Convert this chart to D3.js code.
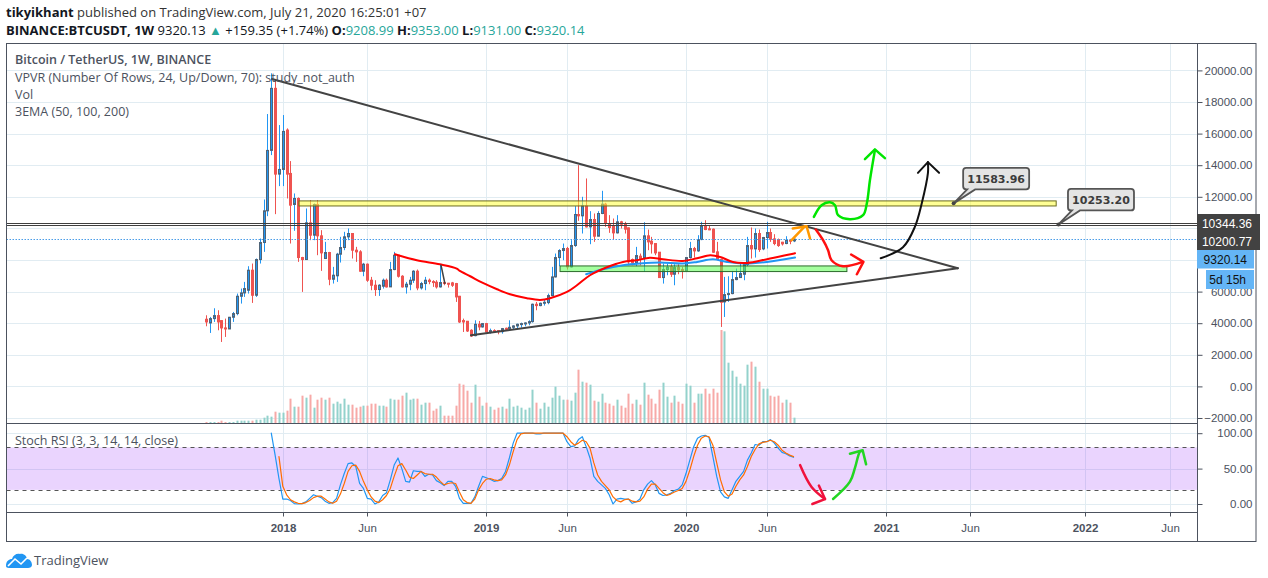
<!DOCTYPE html>
<html>
<head>
<meta charset="utf-8">
<script src="https://cdn.jsdelivr.net/npm/d3@7"></script>
<style>
  html, body { margin: 0; padding: 0; background: #fff; }
  svg { display: block; }
  text { font-family: "Open Sans", sans-serif; }
  .axis-label text, .axis-label-time text { font-family: "Liberation Sans", sans-serif; font-size: 11.5px; fill: #4c525e; }
  .axis-label line, .axis-label-time line { stroke: #4c525e; }
  .axis-label path, .axis-label-time path { display: none; }
</style>
</head>
<body>
<svg id="chart" width="1268" height="578"></svg>
<script>
// --- weekly candles, BINANCE:BTCUSDT ---
const candleOpen = [4249,4017,4291,4481,4164,3700,3636,4376,4608,5706,
  5917,6086,7354,5769,8029,9106,11113,14936,18864,13436,
  13732,16224,13478,11514,11894,8156,8029,10352,9571,11514,
  9529,8093,8473,6783,7000,8367,8790,9466,9677,8621,
  8515,7290,7734,6720,6403,6129,6340,6720,6298,7396,
  8304,6973,6298,6467,6720,7290,6234,6509,6720,6635,
  6593,6298,6572,6530,6550,6508,5705,4164,4122,3551,
  3213,3931,3762,3974,3445,3530,3530,3467,3678,3636,
  3741,3826,3931,3974,4016,4100,5199,5114,5262,5304,
  5748,6930,8155,8599,8726,7564,8916,10880,10795,11429,
  10098,10563,9507,10943,11535,10310,10141,9718,10415,10310,
  10035,8029,7817,8240,8150,9528,9190,9042,8493,6888,
  7394,7563,7099,7521,7394,7331,8155,8725,8577,9295,
  10140,9971,9950,8514,8028,5346,5831,5874,6761,6888,
  7099,7711,8915,8704,9675,8704,9422,9739,9337,9295,
  9126,9042,9253,9208.99];
const candleHigh = [4502,4397,4946,4819,4185,4291,4397,4713,5875,6192,
  6614,7607,7776,8093,9360,11831,17238,19814,19350,16541,
  17174,16330,14260,12211,11958,8200,11261,11789,11577,11789,
  9888,9149,8515,7565,8452,9466,9782,9993,9677,8832,
  8621,7818,7776,6931,6720,6467,6826,6826,7881,8515,
  8304,7037,6614,6931,7354,7396,6614,6931,6826,6720,
  6720,7670,6720,6551,6614,6550,5727,4290,4143,3615,
  4185,4143,4016,4016,3657,3615,3551,3699,3720,4185,
  3868,3974,4037,4058,4185,5241,5346,5304,5494,5874,
  7564,8409,8683,9042,8831,9254,11408,14006,12000,13161,
  11091,10943,11091,12379,11619,10838,10626,10838,10478,10415,
  10056,8092,8831,8409,10394,9929,9464,9042,8493,7775,
  7775,7732,7732,7732,7563,8155,9147,8830,9570,10415,
  10520,10203,9992,9147,8091,6930,6972,7310,7458,7775,
  7732,9464,10056,9992,9929,9464,10415,9992,9633,9358,
  9147,9506,9337,9353];
const candleLow = [3805,3383,4080,3552,2813,3130,3636,4080,4502,5241,
  5664,5875,5284,5664,7776,8515,10775,14640,10902,12676,
  12676,11894,9043,9846,7881,5981,8029,9254,9254,8304,
  7311,8093,6403,6509,6614,7839,8621,9254,8093,7881,
  7248,6973,6614,6086,5727,5727,6192,6255,6298,7354,
  6889,6255,5875,6086,6551,6086,6129,6086,6467,6298,
  6192,6255,6403,6255,6297,5346,4016,3445,3445,3129,
  3171,3551,3720,3445,3340,3403,3298,3340,3551,3509,
  3593,3699,3720,3805,3868,4037,4818,5072,5114,5199,
  5705,6888,7606,7986,7395,7522,8831,10479,9676,10056,
  9000,9148,9507,10901,10098,9718,9296,9676,9993,9676,
  7670,7670,7606,7670,7247,8620,8408,8303,6888,6507,
  7035,6930,6402,7099,6824,7310,8091,8155,8514,9253,
  9887,9887,8450,7986,3762,4395,5346,5831,6719,6866,
  6719,7606,8091,8155,8514,8619,8725,9147,8936,8830,
  8915,8999,8999,9131];
const candleClose = [4080,4291,4481,4080,3700,3636,4376,4608,5706,5917,
  6192,7354,5769,8029,9106,11113,14936,18864,13436,13732,
  16139,13436,11472,11894,8156,8029,10352,9571,11514,9529,
  8452,8473,6783,7037,8367,8790,9466,9677,8621,8515,
  7290,7734,6720,6403,6129,6403,6720,6298,7396,8304,
  6973,6298,6467,6720,7290,6234,6509,6720,6635,6593,
  6298,6572,6530,6467,6402,5663,4079,4079,3509,3192,
  3931,3762,3974,3445,3530,3467,3467,3657,3636,3741,
  3826,3931,3974,4016,4100,5199,5114,5262,5325,5748,
  6930,8155,8599,8726,7564,8916,10880,10795,11429,10098,
  10563,9507,10943,11535,10310,10056,9718,10415,10267,9951,
  7881,7817,8282,8092,9528,9148,9021,8450,6888,7394,
  7542,7099,7521,7373,7331,8155,8725,8577,9295,10140,
  9929,9929,8493,8028,5325,5810,5874,6761,6888,7141,
  7711,8915,8704,9675,8662,9422,9739,9316,9042,8915,
  9021,9253,9211,9320.14];
const volumes = [3,3,3,3,7,3,3,3,7,7, 7,7,7,10,10,16,22,19,34,31,
  31,37,73,49,49,82,76,85,46,70, 76,70,76,58,64,58,73,55,55,46,
  49,52,52,58,58,52,52,49,73,70, 70,82,91,70,73,73,55,61,61,37,
  43,52,22,22,22,52,118,115,97,61, 115,79,52,61,49,40,46,49,43,73,
  49,52,46,40,46,100,61,43,61,49, 76,109,82,70,70,67,91,160,124,121,
  115,67,64,88,61,58,52,70,52,46, 88,58,70,55,121,85,73,58,100,121,
  79,61,82,64,58,118,112,61,88,88, 103,88,103,91,279,275,181,157,139,118,
  112,175,184,169,124,103,103,82,79,82, 61,70,61,16];

// Stoch RSI lines, they start a few weeks after the first candle
const stochKStart = 17;
const stochK = [100,69,36,7,7,5,0.5,0,0.5,3,
  8,13,11,9,4,1,2,8,27,43,
  57,58,53,29,22,8,7,0,3,12,
  16,34,55,65,50,32,31,47,46,46,
  39,42,41,33,30,26,32,32,25,8,
  1,1,1,10,25,39,37,35,32,33,
  36,46,65,86,100,100,100,100,100,99,
  99,100,100,100,100,100,100,88,81,82,
  91,95,81,65,39,32,27,22,13,0,
  7,8,7,7,1,3,7,20,28,33,
  27,15,12,13,15,19,21,27,43,62,
  81,93,96,97,94,67,39,17,10,8,
  20,32,39,46,62,72,84,83,88,88,
  91,86,79,73,71,68,66];
const stochDStart = 19;
const stochD = [67,25,13,6,3,1,0.5,2,5,9,
  11,11,7,3,1,4,14,29,46,54,
  55,46,32,20,10,4,2,6,12,22,
  39,54,57,48,38,36,41,46,43,42,
  42,38,32,27,29,30,29,17,6,2,
  1,7,20,29,35,36,34,33,34,41,
  55,74,91,99,100,100,100,100,100,100,
  100,100,100,100,100,95,88,83,86,90,
  88,79,58,41,32,26,20,10,5,3,
  6,7,4,3,4,10,21,28,28,22,
  16,12,14,17,19,22,32,48,67,83,
  93,96,95,83,58,34,17,11,14,25,
  34,41,53,67,77,85,87,88,90,88,
  83,76,72,69,67];

// EMA curves as [week, price]
const emaRed = [[49.2,8365],[54.9,7985],[60.9,7731],[65.3,7459],[66.1,7307],[68.8,6971],[72.1,6546],
  [75.8,6147],[79.2,5830],[83.6,5577],[87,5469],[89.6,5577],[94,5976],[96.6,6400],[100,7034],
  [104.4,7541],[108.6,7877],[112.2,7985],[115.6,8143],[119,8048],[124.2,7940],[127.9,8111],
  [131.3,8301],[133.9,8194],[137.2,7877],[140.9,7814],[146.1,8048],[153.4,8428]];
const emaBlue = [[99,7097],[103.4,7414],[108.6,7668],[113,7776],[118.2,7839],[124.2,7776],[127.9,7877],
  [132,8048],[135.7,7877],[139.8,7776],[146.1,7877],[153.4,8156]];

// hand drawings as [week, price]
const trendUpper = [[17.2,19455],[195.8,7478]];
const trendLower = [[69,3232],[195.8,7478]];
const smallStroke = [[61.2,7668],[62.2,6527]];
const yellowZone = { weeks: [24.2,221.4], prices: [11420,11740] };
const greenZone = { weeks: [92.2,166.9], prices: [7268,7624] };
const arrowOrange = [[152.5,9252],[156,10139]];
const arrowOrangeHead = [[152.8,9993],[156.4,10139],[157.3,9360]];
const arrowGreen = [[158.3,10728],[160.3,11470],[162.5,11660],[163.8,11470],[164.6,10836],[167.7,10583],
  [171.1,10836],[172.1,11597],[172.9,13054],[174.2,14955]];
const arrowGreenHead = [[171.6,14385],[174.2,15000],[176.8,14448]];
const arrowRed = [[158.8,9930],[160.7,9252],[162,8618],[162.9,7985],[165.9,7604],[171,7877]];
const arrowRedHead = [[168,8346],[171.2,7877],[169.5,7097]];
const arrowBlack = [[175.7,8111],[181.5,8808],[184.6,10095],[186.4,11597],[188,13498],[188,14195]];
const arrowBlackHead = [[185.4,13517],[188,14195],[190.9,13517]];

// hand drawings in the Stoch pane as [week, value]
const stochArrowRed = [[154.7,55],[157.7,24],[161.2,7]];
const stochArrowRedHead = [[159.6,26],[161.2,7],[157.9,0]];
const stochArrowGreen = [[163.3,7],[167.7,31.5],[169,51],[170.3,74],[170.8,75]];
const stochArrowGreenHead = [[167.7,71],[171,76],[171.9,56]];

const horizontalLevels = [10344.36, 10200.77];
const lastPrice = 9320.14;
const callouts = [
  { label: "11583.96", week: 194.7, price: 11583.96 },
  { label: "10253.20", week: 222, price: 10253.2 },
];

// axis labels
const priceTicks = [-2000,0,2000,4000,6000,8000,10000,12000,14000,16000,18000,20000];
const stochTicks = [0,50,100];
const timeTickWeeks = [20,42,73,94,125,146,177,199,229,251];
const timeTickLabels = ["2018","Jun","2019","Jun","2020","Jun","2021","Jun","2022","Jun"];

// --- layout ---
const frame = { left: 6.5, right: 1197.5, outer: 1256, top: 43.5, mainBottom: 423.5, stochBottom: 512.5, bottom: 541.5 };
const UP = "#2196f3", DOWN = "#ef5350", GRID = "#e1ecf2", TEXT = "#4c525e";

const svg = d3.select("#chart");
const xScale = d3.scaleLinear().domain([0, 100]).range([206, 590]);
const yPrice = d3.scaleLinear().domain([0, 20000]).range([386.4, 70.4]);
const yVolume = d3.scaleLinear().domain([0, 279]).range([423, 330]);
const yStoch = d3.scaleLinear().domain([0, 100]).range([504, 433.2]);

const crisp = (v) => Math.round(v) + 0.5;
const priceLine = d3.line().x((d) => xScale(d[0])).y((d) => yPrice(d[1]));
const stochLine = d3.line().x((d) => xScale(d[0])).y((d) => yStoch(d[1]));
const curveLine = d3.line().x((d) => xScale(d[0])).y((d) => yPrice(d[1])).curve(d3.curveCatmullRom);
const stochCurve = d3.line().x((d) => xScale(d[0])).y((d) => yStoch(d[1])).curve(d3.curveCatmullRom);

function drawPath(d, color, width, opacity) {
  svg.append("path").attr("d", d).attr("fill", "none").attr("stroke", color)
    .attr("stroke-width", width).attr("stroke-linecap", "round").attr("stroke-linejoin", "round")
    .attr("opacity", opacity === undefined ? 1 : opacity);
}

// --- header ---
const header = svg.append("g").attr("fill", "#131722").attr("font-size", 13);
const line1 = header.append("text").attr("x", 6).attr("y", 17);
line1.append("tspan").attr("font-weight", 700).text("tikyikhant");
line1.append("tspan").attr("fill", "#333").text(" published on TradingView.com, July 21, 2020 16:25:01 +07");
const line2 = header.append("text").attr("x", 6).attr("y", 35);
line2.append("tspan").attr("font-weight", 700).text("BINANCE:BTCUSDT, 1W");
line2.append("tspan").text("  9320.13 ");
line2.append("tspan").attr("fill", "#26a69a").text("▲");
line2.append("tspan").text(" +159.35 (+1.74%) ");
[["O:", "9208.99"], ["H:", "9353.00"], ["L:", "9131.00"], ["C:", "9320.14"]].forEach(([k, v], i) => {
  line2.append("tspan").attr("font-weight", 700).text(k);
  line2.append("tspan").attr("fill", "#26a69a").text(v + (i < 3 ? " " : ""));
});

// --- grid ---
const grid = svg.append("g").attr("stroke", GRID).attr("stroke-width", 1);
timeTickWeeks.forEach((w) => {
  grid.append("line").attr("x1", crisp(xScale(w))).attr("x2", crisp(xScale(w)))
    .attr("y1", frame.top).attr("y2", frame.stochBottom);
});
priceTicks.forEach((p) => {
  grid.append("line").attr("x1", frame.left).attr("x2", frame.right)
    .attr("y1", crisp(yPrice(p))).attr("y2", crisp(yPrice(p)));
});
stochTicks.forEach((v) => {
  grid.append("line").attr("x1", frame.left).attr("x2", frame.right)
    .attr("y1", crisp(yStoch(v))).attr("y2", crisp(yStoch(v)));
});

// --- volume ---
svg.append("g").selectAll("rect").data(volumes).join("rect")
  .attr("x", (d, i) => Math.round(xScale(i)) - 0.5)
  .attr("width", 2)
  .attr("y", (d) => yVolume(d))
  .attr("height", (d) => yVolume(0) - yVolume(d))
  .attr("fill", (d, i) => (candleClose[i] >= candleOpen[i] ? "#93d2cc" : "#f7a9a7"));

// --- candles ---
const candles = svg.append("g").selectAll("g").data(candleOpen).join("g");
candles.append("line")
  .attr("x1", (d, i) => crisp(xScale(i))).attr("x2", (d, i) => crisp(xScale(i)))
  .attr("y1", (d, i) => yPrice(candleHigh[i])).attr("y2", (d, i) => yPrice(candleLow[i]))
  .attr("stroke", (d, i) => (candleClose[i] >= d ? UP : DOWN));
candles.append("rect")
  .attr("x", (d, i) => crisp(xScale(i)) - 1)
  .attr("width", 2)
  .attr("y", (d, i) => yPrice(Math.max(d, candleClose[i])))
  .attr("height", (d, i) => Math.max(1, Math.abs(yPrice(d) - yPrice(candleClose[i]))))
  .attr("fill", (d, i) => (candleClose[i] >= d ? UP : DOWN))
  .attr("stroke", (d, i) => (candleClose[i] >= d ? "#4f6478" : DOWN));

// --- price levels ---
horizontalLevels.forEach((p) => {
  svg.append("line").attr("x1", frame.left).attr("x2", frame.right)
    .attr("y1", crisp(yPrice(p))).attr("y2", crisp(yPrice(p)))
    .attr("stroke", "#3f3f3f").attr("stroke-width", 1);
});
svg.append("line").attr("x1", frame.left).attr("x2", frame.right)
  .attr("y1", crisp(yPrice(lastPrice))).attr("y2", crisp(yPrice(lastPrice)))
  .attr("stroke", "#4a9de8").attr("stroke-dasharray", "1.5,1.5");

// --- zones ---
[[yellowZone, "rgba(255,255,60,0.55)", "#6b6b1f"], [greenZone, "rgba(90,255,80,0.55)", "#2c6b2c"]].forEach(([z, fill, stroke]) => {
  svg.append("rect")
    .attr("x", xScale(z.weeks[0])).attr("width", xScale(z.weeks[1]) - xScale(z.weeks[0]))
    .attr("y", yPrice(z.prices[1])).attr("height", yPrice(z.prices[0]) - yPrice(z.prices[1]))
    .attr("fill", fill).attr("stroke", stroke).attr("stroke-width", 1);
});

// --- EMA curves ---
drawPath(curveLine(emaBlue), "#2196f3", 2);
drawPath(curveLine(emaRed), "#ff0000", 2);

// --- trendlines and hand drawings ---
drawPath(priceLine(trendUpper), "#434343", 2);
drawPath(priceLine(trendLower), "#434343", 2);
drawPath(priceLine(smallStroke), "#434343", 1.5);
drawPath(curveLine(arrowOrange), "#ff9800", 2.5);
drawPath(priceLine(arrowOrangeHead), "#ff9800", 2.5);
drawPath(curveLine(arrowGreen), "#00e600", 2.5);
drawPath(priceLine(arrowGreenHead), "#00e600", 2.5);
drawPath(curveLine(arrowRed), "#ff1010", 2.5);
drawPath(priceLine(arrowRedHead), "#ff1010", 2.5);
drawPath(curveLine(arrowBlack), "#111111", 2);
drawPath(priceLine(arrowBlackHead), "#111111", 2);

// --- callouts ---
callouts.forEach((c) => {
  const ax = xScale(c.week), ay = yPrice(c.price);
  const bx = ax + 9.5, by = ay - 35.5, bw = 66, bh = 21.5, r = 3;
  const d = `M${bx + r},${by} H${bx + bw - r} Q${bx + bw},${by} ${bx + bw},${by + r} V${by + bh - r} Q${bx + bw},${by + bh} ${bx + bw - r},${by + bh}
    H${bx + 12} L${ax},${ay} L${bx + 4},${by + bh} H${bx + r} Q${bx},${by + bh} ${bx},${by + bh - r} V${by + r} Q${bx},${by} ${bx + r},${by} Z`;
  svg.append("path").attr("d", d).attr("fill", "#e4e4e4").attr("stroke", "#555").attr("stroke-width", 1.8);
  svg.append("circle").attr("cx", ax).attr("cy", ay).attr("r", 2).attr("fill", "#444");
  svg.append("text").attr("x", bx + bw / 2).attr("y", by + 15).attr("text-anchor", "middle")
    .attr("font-size", 11).attr("font-weight", 700).attr("fill", "#3c3c3c")
    .style("font-family", '"DejaVu Sans", sans-serif').text(c.label);
});

// --- Stoch RSI pane ---
svg.append("rect").attr("x", frame.left).attr("width", frame.right - frame.left)
  .attr("y", yStoch(80)).attr("height", yStoch(20) - yStoch(80)).attr("fill", "rgba(152,40,250,0.2)");
[80, 20].forEach((v) => {
  svg.append("line").attr("x1", frame.left).attr("x2", frame.right)
    .attr("y1", crisp(yStoch(v))).attr("y2", crisp(yStoch(v)))
    .attr("stroke", "#555").attr("stroke-dasharray", "4,4");
});
drawPath(stochLine(stochK.map((v, i) => [i + stochKStart, v])), "#2196f3", 1.2);
drawPath(stochLine(stochD.map((v, i) => [i + stochDStart, v])), "#ff6d00", 1.2);
drawPath(stochCurve(stochArrowRed), "#f0123c", 2.5);
drawPath(stochLine(stochArrowRedHead), "#f0123c", 2.5);
drawPath(stochCurve(stochArrowGreen), "#22d622", 2.5);
drawPath(stochLine(stochArrowGreenHead), "#22d622", 2.5);

// --- legends ---
const legend = svg.append("g").attr("fill", TEXT).attr("font-size", 12.5);
legend.append("text").attr("x", 15).attr("y", 64).attr("font-weight", 600).text("Bitcoin / TetherUS, 1W, BINANCE");
legend.append("text").attr("x", 15).attr("y", 82).text("VPVR (Number Of Rows, 24, Up/Down, 70): study_not_auth");
legend.append("text").attr("x", 15).attr("y", 99).text("Vol");
legend.append("text").attr("x", 15).attr("y", 116).text("3EMA (50, 100, 200)");
legend.append("text").attr("x", 15).attr("y", 445).text("Stoch RSI (3, 3, 14, 14, close)");

// --- axes ---
const priceAxis = d3.axisRight(yPrice).tickValues(priceTicks).tickFormat(d3.format(".2f")).tickSize(5).tickPadding(0);
const stochAxis = d3.axisRight(yStoch).tickValues(stochTicks).tickFormat(d3.format(".2f")).tickSize(5).tickPadding(0);
[[priceAxis], [stochAxis]].forEach(([axis]) => {
  const g = svg.append("g").attr("class", "axis-label").attr("transform", `translate(${frame.right},0)`).call(axis);
  g.selectAll("text").attr("text-anchor", "end").attr("x", 55);
});
const timeAxis = d3.axisBottom(xScale).tickValues(timeTickWeeks)
  .tickFormat((d, i) => timeTickLabels[i]).tickSize(4).tickPadding(7);
const timeG = svg.append("g").attr("class", "axis-label-time")
  .attr("transform", `translate(0,${frame.stochBottom})`).call(timeAxis);
timeG.selectAll("text").attr("font-weight", (d, i) => (timeTickLabels[i] === "Jun" ? 400 : 700));
timeG.selectAll(".tick").attr("transform", (d) => `translate(${crisp(xScale(d))},0)`);

// --- frame ---
const border = svg.append("g").attr("stroke", "#4c525e").attr("stroke-width", 1).attr("fill", "none");
border.append("rect").attr("x", frame.left).attr("y", frame.top)
  .attr("width", frame.outer - frame.left).attr("height", frame.bottom - frame.top);
border.append("line").attr("x1", frame.right).attr("x2", frame.right).attr("y1", frame.top).attr("y2", frame.bottom);
border.append("line").attr("x1", frame.left).attr("x2", frame.right).attr("y1", frame.mainBottom).attr("y2", frame.mainBottom);
border.append("line").attr("x1", frame.left).attr("x2", frame.right).attr("y1", frame.stochBottom).attr("y2", frame.stochBottom);

// --- price tags ---
function priceTag(x, y, w, h, fill, color, label, textX) {
  svg.append("rect").attr("x", x).attr("y", y).attr("width", w).attr("height", h).attr("fill", fill);
  svg.append("text").attr("x", textX).attr("y", y + h / 2 + 4.5).attr("text-anchor", "end")
    .attr("fill", color).attr("font-size", 12).style("font-family", '"Liberation Sans", sans-serif').text(label);
}
svg.append("rect").attr("x", 1197).attr("y", 214).attr("width", 63).attr("height", 36).attr("fill", "#424242");
priceTag(1197, 214, 63, 18, "#424242", "#fff", "10344.36", 1252);
priceTag(1197, 232, 63, 18, "#424242", "#fff", "10200.77", 1252);
priceTag(1197, 250, 57, 18.5, "#64b5f6", "#111", "9320.14", 1247);
priceTag(1206, 270, 48, 19, "#64b5f6", "#111", "5d 15h", 1246);

// --- logo ---
const logo = svg.append("g").attr("transform", "translate(6,552)");
logo.append("path").attr("fill", "#2196f3")
  .attr("d", "M0,14 C0,9 3,7 6,7 C7,3 11,1 14,2 C17,1 21,4 21,7 C24,7 26,10 26,13 C26,15 24,16 22,16 H3 C1,16 0,15 0,14 Z");
logo.append("path").attr("fill", "none").attr("stroke", "#fff").attr("stroke-width", 1.6)
  .attr("d", "M2,14 L9,7 L15,12 L21,6");
svg.append("text").attr("x", 34).attr("y", 565).attr("font-size", 13).attr("fill", TEXT).text("TradingView");
</script>
</body>
</html>
